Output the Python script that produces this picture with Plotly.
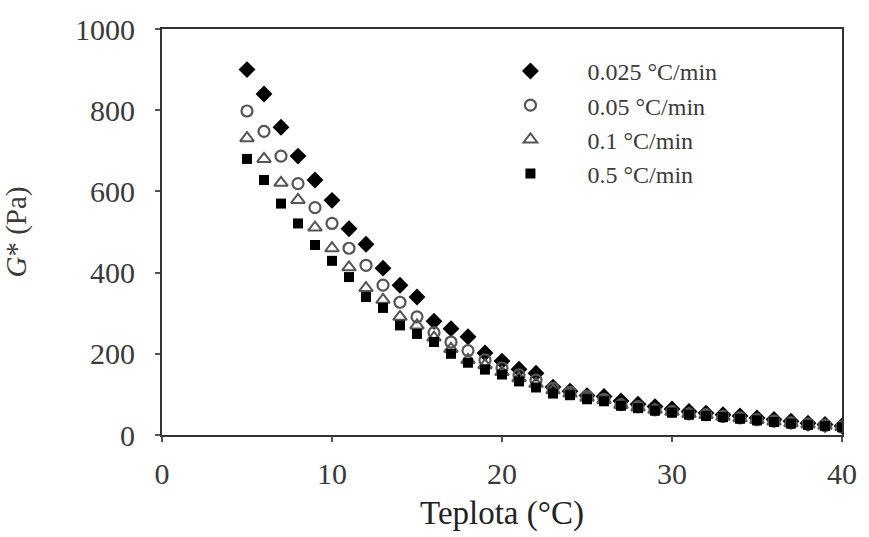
import plotly.graph_objects as go

temps = list(range(5, 41))

g_0025 = [900, 840, 758, 687, 628, 578, 508, 470, 411, 369, 340, 280, 262, 242, 202, 182,
          162, 152, 118, 108, 97, 95, 84, 76, 70, 64, 58, 54, 50, 47, 42, 38, 34, 29, 26, 22]
g_005 = [798, 748, 687, 619, 560, 521, 460, 418, 369, 327, 291, 252, 229, 208, 185, 165,
         148, 135, 115, 105, 95, 88, 75, 70, 62, 58, 52, 50, 46, 42, 38, 34, 30, 27, 24, 20]
g_01 = [731, 680, 621, 579, 511, 460, 413, 362, 333, 291, 270, 240, 212, 185, 172, 155,
        140, 126, 110, 102, 92, 86, 74, 68, 62, 57, 52, 49, 45, 41, 37, 33, 29, 26, 23, 20]
g_05 = [680, 628, 570, 521, 468, 429, 389, 340, 313, 270, 249, 229, 200, 178, 161, 149,
        132, 117, 102, 98, 88, 83, 72, 66, 60, 55, 50, 47, 44, 40, 36, 32, 28, 25, 22, 19]

series_names = ["0.025 °C/min", "0.05 °C/min", "0.1 °C/min", "0.5 °C/min"]
x_ticks = [0, 10, 20, 30, 40]
y_ticks = [0, 200, 400, 600, 800, 1000]

FONT = "Liberation Serif, Times New Roman, serif"
TXT = "#3a3a3a"

fig = go.Figure()
fig.add_trace(go.Scatter(x=temps, y=g_0025, mode="markers", name=series_names[0],
                         marker=dict(symbol="diamond", size=13, color="black")))
fig.add_trace(go.Scatter(x=temps, y=g_005, mode="markers", name=series_names[1],
                         marker=dict(symbol="circle-open", size=11, color="#555555",
                                     line=dict(width=2.2, color="#555555"))))
fig.add_trace(go.Scatter(x=temps, y=g_01, mode="markers", name=series_names[2],
                         marker=dict(symbol="triangle-up-open", size=12, color="#555555",
                                     line=dict(width=2, color="#555555"))))
fig.add_trace(go.Scatter(x=temps, y=g_05, mode="markers", name=series_names[3],
                         marker=dict(symbol="square", size=10, color="black")))

axis_common = dict(showgrid=False, zeroline=False, showline=True, linewidth=2,
                   linecolor="#333333", mirror=True, ticks="outside", ticklen=5,
                   tickwidth=1.5, tickcolor="#555555",
                   tickfont=dict(family=FONT, size=30, color=TXT))

fig.update_xaxes(range=[0, 40], tickvals=x_ticks, ticklabelstandoff=6,
                 title=dict(text="Teplota (°C)", font=dict(family=FONT, size=33, color="#222222"),
                            standoff=12),
                 **axis_common)
fig.update_yaxes(range=[0, 1000], tickvals=y_ticks, ticklabelstandoff=14,
                 title=dict(text="<i>G</i>* (Pa)", font=dict(family=FONT, size=29, color=TXT),
                            standoff=42),
                 **axis_common)

fig.update_layout(
    width=869, height=537,
    margin=dict(l=162, r=19, t=27, b=101),
    plot_bgcolor="white", paper_bgcolor="white",
    showlegend=True,
    legend=dict(x=0.458, y=0.951, xanchor="left", yanchor="top",
                bgcolor="rgba(0,0,0,0)", borderwidth=0,
                font=dict(family=FONT, size=24, color=TXT),
                itemwidth=104, tracegroupgap=0),
)

fig.write_html("out.html")
